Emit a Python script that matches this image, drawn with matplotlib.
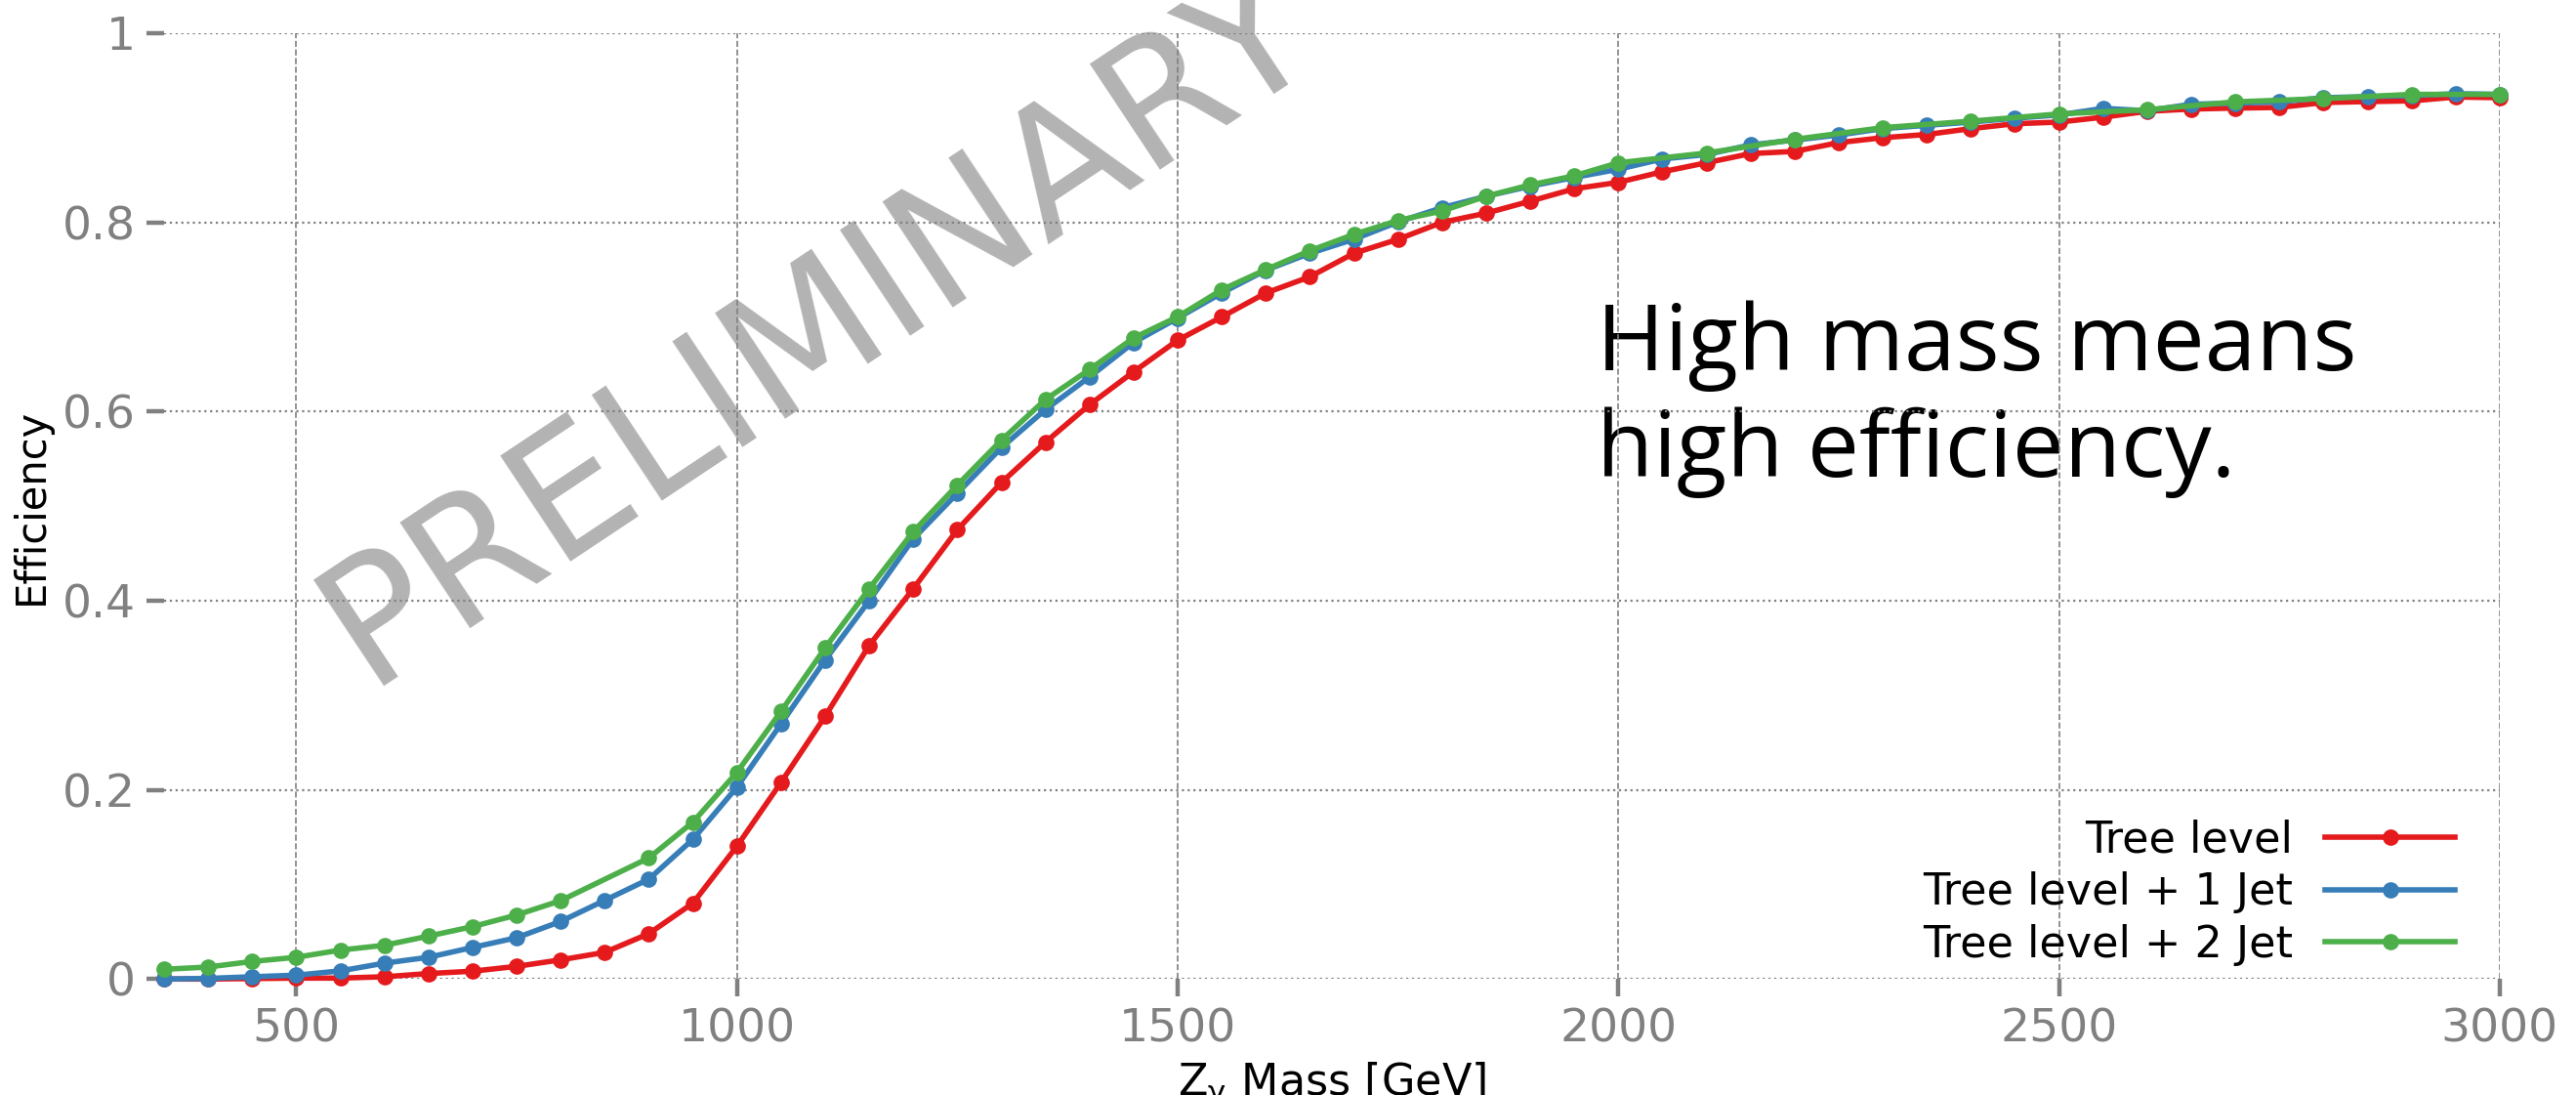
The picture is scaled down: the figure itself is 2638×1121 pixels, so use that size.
import numpy as np
import matplotlib
matplotlib.use("Agg")
import matplotlib.pyplot as plt

plt.rcParams["mathtext.default"] = "regular"

# ---- data ----
mass = np.arange(350, 3001, 50)

eff_tree = [0.000, 0.000, 0.0005, 0.001, 0.001, 0.0024, 0.0058, 0.0083, 0.0134, 0.0203,
            0.0282, 0.0480, 0.0802, 0.1405, 0.2079, 0.2778, 0.3527, 0.4127, 0.4750, 0.5249,
            0.5676, 0.6072, 0.6420, 0.6754, 0.7000, 0.7253, 0.7425, 0.7673, 0.7821, 0.8000,
            0.8097, 0.8224, 0.8355, 0.8423, 0.8535, 0.8630, 0.8727, 0.8750, 0.8843, 0.8895,
            0.8929, 0.8991, 0.9043, 0.9060, 0.9112, 0.9174, 0.9198, 0.9208, 0.9215, 0.9267,
            0.9277, 0.9284, 0.9325, 0.9318]

eff_1jet = [0.000, 0.0007, 0.0024, 0.0041, 0.0086, 0.0168, 0.0230, 0.0334, 0.0437, 0.0609,
            0.0832, 0.1056, 0.1477, 0.2030, 0.2698, 0.3373, 0.4000, 0.4654, 0.5136, 0.5618,
            0.6021, 0.6365, 0.6730, 0.6988, 0.7253, 0.7494, 0.7673, 0.7821, 0.8004, 0.8155,
            0.8276, 0.8382, 0.8475, 0.8561, 0.8670, 0.8717, 0.8819, 0.8870, 0.8923, 0.8991,
            0.9026, 0.9060, 0.9101, 0.9136, 0.9205, 0.9180, 0.9249, 0.9260, 0.9274, 0.9318,
            0.9329, 0.9340, 0.9360, 0.9353]

# 2 jet sample: no point at 850, only every 100 GeV above 2000
mass_2jet = [350, 400, 450, 500, 550, 600, 650, 700, 750, 800,
             900, 950, 1000, 1050, 1100, 1150, 1200, 1250, 1300, 1350,
             1400, 1450, 1500, 1550, 1600, 1650, 1700, 1750, 1800, 1850,
             1900, 1950, 2000, 2100, 2200, 2300, 2400, 2500, 2600, 2700,
             2800, 2900, 3000]
eff_2jet = [0.0103, 0.0127, 0.0186, 0.0230, 0.0306, 0.0357, 0.0454, 0.0554, 0.0677, 0.0829,
            0.1280, 0.1659, 0.2186, 0.2830, 0.3501, 0.4127, 0.4730, 0.5222, 0.5697, 0.6127,
            0.6444, 0.6778, 0.7002, 0.7287, 0.7501, 0.7700, 0.7873, 0.8020, 0.8120, 0.8276,
            0.8396, 0.8492, 0.8630, 0.8733, 0.8878, 0.9001, 0.9070, 0.9146, 0.9191, 0.9274,
            0.9308, 0.9353, 0.9353]

x_ticks = [500, 1000, 1500, 2000, 2500, 3000]
y_ticks = [0, 0.2, 0.4, 0.6, 0.8, 1.0]
y_tick_labels = ["0", "0.2", "0.4", "0.6", "0.8", "1"]

GRAY = "#808080"

fig = plt.figure(figsize=(13.19, 5.605), dpi=200)
ax = fig.add_axes([0.0637, 0.1059, 0.9067, 0.8638])

ax.plot(mass, eff_tree, color="#e41a1c", lw=2, marker="o", ms=5, label="Tree level", clip_on=False, zorder=3)
ax.plot(mass, eff_1jet, color="#377eb8", lw=2, marker="o", ms=5, label="Tree level + 1 Jet", clip_on=False, zorder=4)
ax.plot(mass_2jet, eff_2jet, color="#4daf4a", lw=2, marker="o", ms=5, label="Tree level + 2 Jet", clip_on=False, zorder=5)

ax.set_xlim(350, 3000)
ax.set_ylim(0, 1)
ax.set_xticks(x_ticks)
ax.set_yticks(y_ticks)
ax.set_yticklabels(y_tick_labels)

for s in ax.spines.values():
    s.set_visible(False)
ax.tick_params(axis="both", colors=GRAY, labelcolor=GRAY, labelsize=17,
               length=6.5, width=1.6, pad=4, direction="out")

ax.set_axisbelow("line")
ax.grid(True, axis="y", color=GRAY, ls=":", lw=0.8)
ax.grid(True, axis="x", color=GRAY, ls="--", lw=0.6)

ax.set_xlabel(r"Z$_\gamma$ Mass [GeV]", fontsize=16, labelpad=3)
ax.set_ylabel("Efficiency", fontsize=15, labelpad=4)

leg = ax.legend(loc="lower right", bbox_to_anchor=(0.981, 0.014), frameon=False,
                markerfirst=False, fontsize=16, handlelength=3.0, handletextpad=0.75,
                labelspacing=0.24, borderpad=0, borderaxespad=0)

# watermark and comment, kept under the grid
ax.text(0.3279, 0.6646, "PRELIMINARY", transform=fig.transFigure, fontsize=64,
        color="#b3b3b3", rotation=33.6, rotation_mode="anchor",
        ha="center", va="baseline", zorder=1, clip_on=False)
ax.text(0.6198, 0.5647, "High mass means\nhigh efficiency.", transform=fig.transFigure,
        fontsize=34, family="Open Sans", color="black", ha="left", va="baseline",
        linespacing=1.22, zorder=1)

fig.savefig("out.png", dpi=200)
